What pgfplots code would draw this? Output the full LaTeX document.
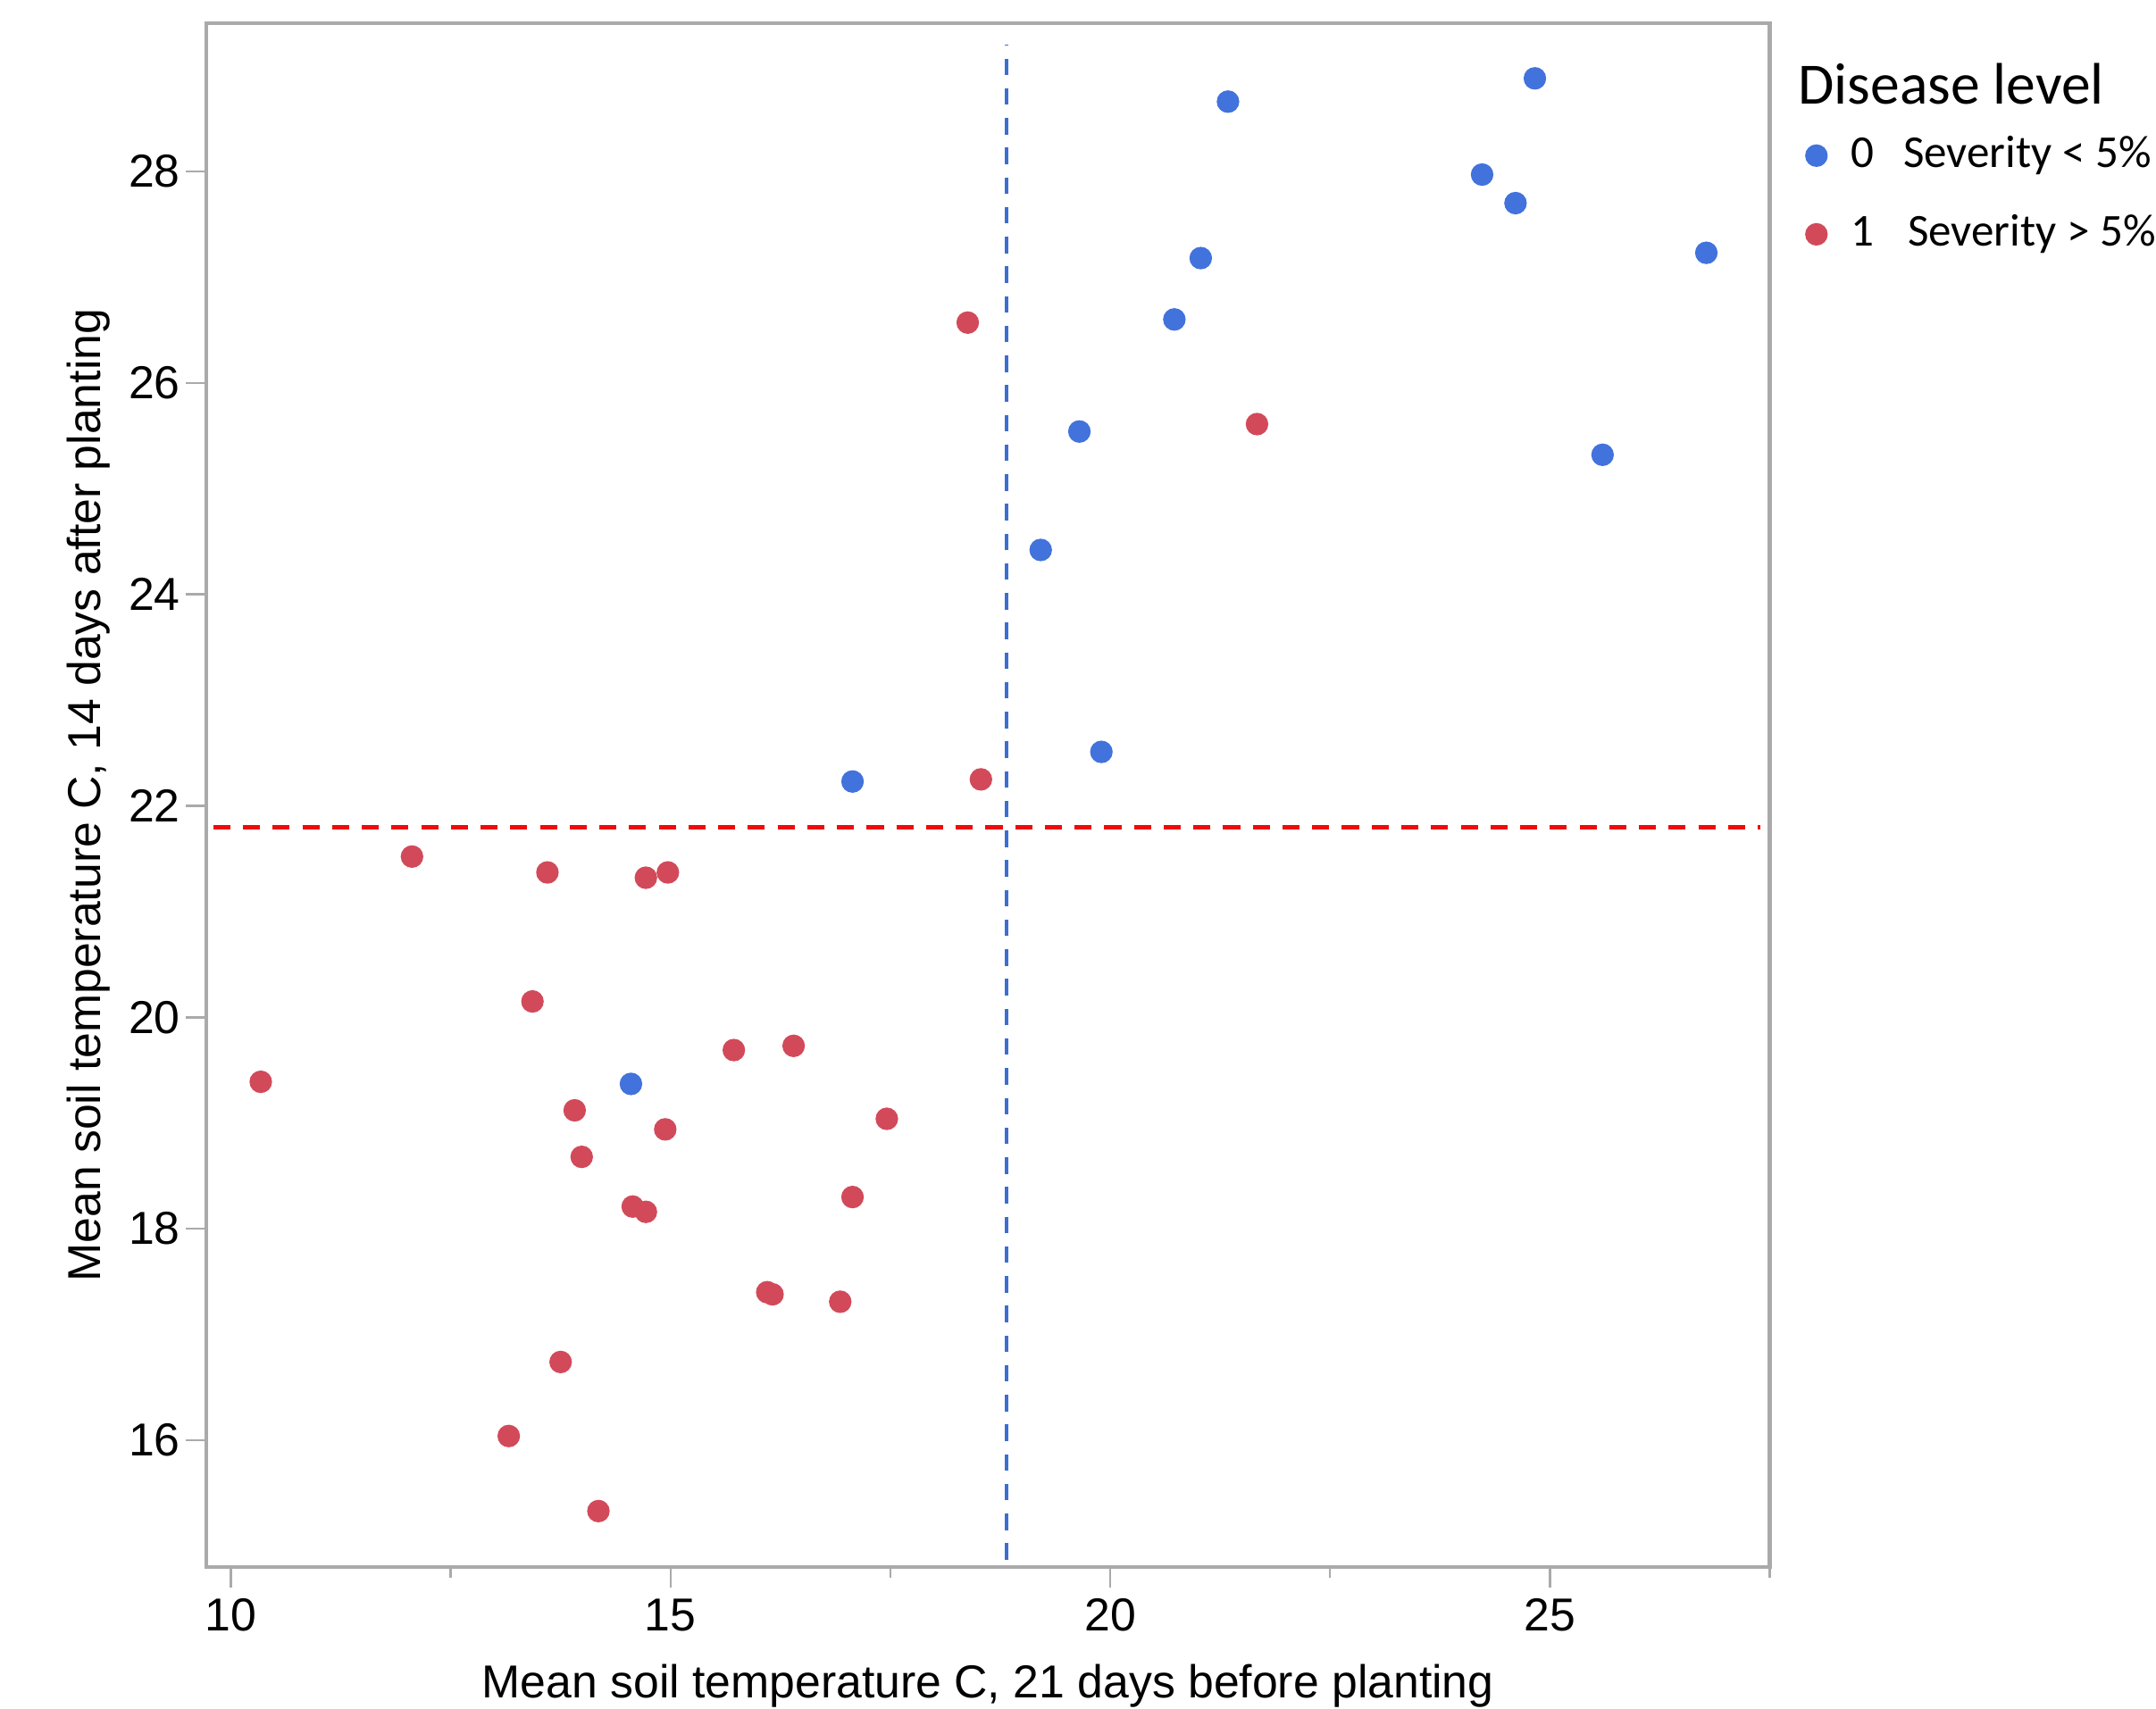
\documentclass[border=0pt]{standalone}
\usepackage{pgfplots}
\pgfplotsset{compat=1.18}
\usepackage{fontspec}
\setmainfont{Liberation Sans}
\newfontfamily\legfont{Carlito}

\definecolor{ptblue}{RGB}{66,114,220}
\definecolor{ptred}{RGB}{210,74,90}
\definecolor{lnblue}{RGB}{60,110,210}
\definecolor{lnred}{RGB}{240,10,10}
\definecolor{frame}{RGB}{170,170,170}

\begin{document}
\begin{tikzpicture}
\begin{axis}[
    name=ax,
    scale only axis, clip=false,
    width=284.25pt, height=280.75pt,
    xmin=9.72, xmax=27.5, ymin=14.8, ymax=29.4,
    xtick={10,15,20,25}, minor xtick={12.5,17.5,22.5,27.5},
    ytick={16,18,...,28},
    tick pos=left, tick align=outside,
    major tick length=3.75pt, minor tick length=2pt,
    axis line style={frame, line width=0.7pt},
    tick style={frame, line width=0.4pt},
    every minor tick/.style={frame, line width=0.4pt},
    ticklabel style={font=\fontsize{8.4}{10}\selectfont},
    xticklabel style={inner sep=1.8pt},
    yticklabel style={inner sep=0.8pt},
    /pgf/number format/assume math mode=true,
    xlabel={Mean soil temperature C, 21 days before planting},
    ylabel={Mean soil temperature C, 14 days after planting},
    label style={font=\fontsize{8.4}{10}\selectfont, inner sep=0pt},
    xlabel style={at={(axis description cs:0.5,-0.0623)}, anchor=north},
    ylabel style={at={(axis description cs:-0.0897,0.5)}, anchor=north},
    legend style={at={(axis description cs:1.0227,0.935)}, anchor=north west,
        draw=none, fill=none, inner sep=0pt, row sep=3.1pt,
        font=\legfont\fontsize{8.3}{10}\selectfont,
        /tikz/every odd column/.append style={column sep=2.4pt}},
    legend cell align=left,
    legend image code/.code={\draw[mark repeat=2,mark phase=2,#1] plot coordinates {(0cm,0cm)(0.1cm,0cm)(0.2cm,0cm)};},
]
\addplot[only marks, mark=*, mark size=1.85pt, color=ptblue] coordinates {
    (21.34,28.66)(24.83,28.88)(24.23,27.97)(24.61,27.70)(21.03,27.18)
    (26.78,27.23)(20.73,26.60)(19.65,25.54)(25.60,25.32)(19.21,24.42)
    (19.90,22.51)(17.07,22.23)(14.55,19.37)
};
\addlegendentry{\makebox[1.15em][l]{0}Severity < 5\%}
\addplot[only marks, mark=*, mark size=1.85pt, color=ptred] coordinates {
    (18.38,26.57)(21.67,25.61)(18.53,22.25)(12.06,21.52)(13.60,21.37)
    (14.72,21.32)(14.97,21.37)(13.43,20.15)(10.34,19.39)(15.72,19.69)
    (16.40,19.73)(13.91,19.12)(14.94,18.94)(17.46,19.04)(13.99,18.68)
    (14.57,18.21)(14.72,18.16)(17.07,18.30)(16.10,17.40)(16.16,17.38)
    (16.93,17.31)(13.75,16.74)(13.16,16.04)(14.18,15.33)
};
\addlegendentry{\makebox[1.25em][l]{1}Severity > 5\%}
\addplot[forget plot, lnblue, line width=0.75pt, dash pattern=on 3.0pt off 2.4pt] coordinates {(18.82,14.87)(18.82,29.20)};
\addplot[forget plot, lnred, line width=0.85pt, dash pattern=on 3.1pt off 2.3pt] coordinates {(9.80,21.80)(27.39,21.80)};
\node[anchor=base west, inner sep=0pt, font=\legfont\fontsize{10.65}{12}\selectfont]
    at (axis description cs:1.0176,0.948) {Disease level};
\end{axis}
\pgfresetboundingbox
\path[use as bounding box] ([shift={(-37.5pt,-25.75pt)}]ax.south west) rectangle ([shift={(70.25pt,4.25pt)}]ax.north east);
\end{tikzpicture}
\end{document}
